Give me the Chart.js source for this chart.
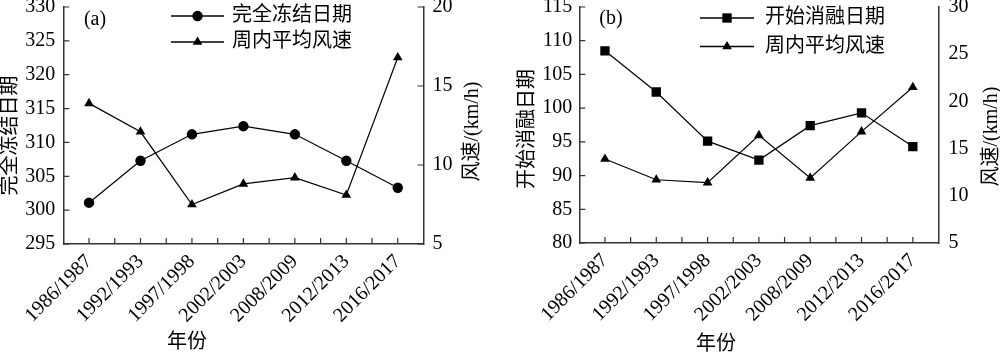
<!DOCTYPE html>
<html>
<head>
<meta charset="utf-8">
<script src="https://cdn.jsdelivr.net/npm/chart.js@4/dist/chart.umd.min.js"></script>
<style>
  html, body { margin: 0; padding: 0; background: #fff; }
  #wrap { position: relative; width: 1000px; height: 354px; overflow: hidden; }
  .panel { position: absolute; top: 0; width: 500px; height: 354px; }
</style>
</head>
<body>
<div id="wrap">
  <div class="panel" style="left:0"><canvas id="ca" width="500" height="354"></canvas></div>
  <div class="panel" style="left:500px"><canvas id="cb" width="500" height="354"></canvas></div>
</div>
<script>
// ---- data ----
const categories = ['1986/1987', '1992/1993', '1997/1998', '2002/2003', '2008/2009', '2012/2013', '2016/2017'];
const freezeDates = [301.1, 307.3, 311.2, 312.4, 311.2, 307.3, 303.3];   // 完全冻结日期
const windA = [13.9, 12.1, 7.5, 8.8, 9.2, 8.1, 16.8];                    // 周内平均风速 (a)
const thawDates = [108.5, 102.4, 95.1, 92.3, 97.4, 99.3, 94.3];           // 开始消融日期
const windB = [13.9, 11.7, 11.4, 16.4, 11.9, 16.8, 21.5];                 // 周内平均风速 (b)
const freezeTicks = [295, 330, 5];   // min, max, step
const windTicksA = [5, 20, 5];
const thawTicks = [80, 115, 5];
const windTicksB = [5, 30, 5];
const labelsA = { panel: '(a)', left: '完全冻结日期', right: '风速/(km/h)', x: '年份', s1: '完全冻结日期', s2: '周内平均风速' };
const labelsB = { panel: '(b)', left: '开始消融日期', right: '风速/(km/h)', x: '年份', s1: '开始消融日期', s2: '周内平均风速' };

const FONT = '"Liberation Serif", "Times New Roman", "Noto Sans CJK SC", serif';
const AXIS = '#333';
const TL = 6;

function drawMarker(ctx, style, r, x, y) {
  ctx.beginPath();
  if (style === 'circle') {
    ctx.arc(x, y, r, 0, Math.PI * 2);
  } else if (style === 'rect') {
    const s = r * Math.SQRT1_2;
    ctx.rect(x - s, y - s, 2 * s, 2 * s);
  } else if (style === 'triangle') {
    for (let k = 0; k < 3; k++) {
      const a = k * 2 * Math.PI / 3;
      const px = x + Math.sin(a) * r, py = y - Math.cos(a) * r;
      if (k === 0) ctx.moveTo(px, py); else ctx.lineTo(px, py);
    }
    ctx.closePath();
  }
  ctx.fill();
}

const deco = {
  id: 'deco',
  afterDraw(chart, args, o) {
    const ctx = chart.ctx, ca = chart.chartArea;
    ctx.save();
    // inward tick marks
    ctx.strokeStyle = AXIS; ctx.lineWidth = 1.2;
    ctx.beginPath();
    const xs = chart.scales.x;
    const n = xs.ticks.length;
    for (let i = 0; i < n; i++) {
      const p = xs.getPixelForTick(i);
      ctx.moveTo(p, ca.bottom); ctx.lineTo(p, ca.bottom - TL);
      if (i < n - 1) {
        const q = (p + xs.getPixelForTick(i + 1)) / 2;
        ctx.moveTo(q, ca.bottom); ctx.lineTo(q, ca.bottom - TL);
      }
    }
    const yl = chart.scales.y;
    yl.ticks.forEach(t => { const p = yl.getPixelForValue(t.value); ctx.moveTo(ca.left, p); ctx.lineTo(ca.left + TL, p); });
    if (o.rightTicks) {
      const yr = chart.scales.y1;
      yr.ticks.forEach(t => { const p = yr.getPixelForValue(t.value); ctx.moveTo(ca.right, p); ctx.lineTo(ca.right - TL, p); });
    }
    ctx.stroke();

    // texts
    ctx.fillStyle = '#000';
    ctx.font = '20px ' + FONT;
    ctx.textBaseline = 'middle';
    ctx.textAlign = 'center';
    ctx.fillText(o.L.panel, o.panelX, o.panelY);
    ctx.fillText(o.L.x, o.xTitleX, o.xTitleY);
    const rot = (txt, x, y) => { ctx.save(); ctx.translate(x, y); ctx.rotate(-Math.PI / 2); ctx.fillText(txt, 0, 0); ctx.restore(); };
    rot(o.L.left, o.leftTitle[0], o.leftTitle[1]);
    rot(o.L.right, o.rightTitle[0], o.rightTitle[1]);

    // legend
    ctx.textAlign = 'left';
    chart.data.datasets.forEach((ds, i) => {
      const y = o.legRows[i];
      ctx.strokeStyle = '#000'; ctx.lineWidth = 1.3;
      ctx.beginPath(); ctx.moveTo(o.legX0, y); ctx.lineTo(o.legX1, y); ctx.stroke();
      ctx.fillStyle = '#000';
      drawMarker(ctx, ds.pointStyle, ds.pointRadius, (o.legX0 + o.legX1) / 2, y);
      ctx.fillText(ds.label, o.legText, y);
    });
    ctx.restore();
  }
};

function makeChart(id, s1, s2, t1, t2, L, geo) {
  const tickFont = { family: FONT, size: 20 };
  return new Chart(document.getElementById(id), {
    type: 'line',
    data: {
      labels: categories,
      datasets: [
        { label: L.s1, data: s1, yAxisID: 'y', borderColor: '#000', borderWidth: 1.2, pointStyle: geo.style1, pointRadius: geo.r1,
          pointBackgroundColor: '#000', pointBorderColor: '#000', pointBorderWidth: 0, tension: 0 },
        { label: L.s2, data: s2, yAxisID: 'y1', borderColor: '#000', borderWidth: 1.2, pointStyle: 'triangle', pointRadius: 5.6,
          pointBackgroundColor: '#000', pointBorderColor: '#000', pointBorderWidth: 0, tension: 0 }
      ]
    },
    options: {
      responsive: false, animation: false, devicePixelRatio: 1,
      layout: { padding: { top: geo.top, left: 0, right: 0, bottom: 0 } },
      plugins: { legend: { display: false }, tooltip: { enabled: false }, deco: geo.deco },
      scales: {
        x: {
          type: 'category', offset: true,
          grid: { display: true, drawOnChartArea: false, drawTicks: false },
          border: { display: true, color: AXIS, width: 1.5 },
          ticks: { autoSkip: false, minRotation: 45, maxRotation: 45, padding: 6, color: '#000', font: { family: FONT, size: 20 } },
          afterFit(s) { s.height = geo.xH; s.paddingLeft = 0; s.paddingRight = 0; }
        },
        y: {
          position: 'left', min: t1[0], max: t1[1],
          grid: { display: true, drawOnChartArea: false, drawTicks: false },
          border: { display: true, color: AXIS, width: 1.5 },
          ticks: { stepSize: t1[2], padding: geo.padL, color: '#000', font: tickFont },
          afterFit(s) { s.width = geo.yW; s.paddingTop = 0; s.paddingBottom = 0; }
        },
        y1: {
          position: 'right', min: t2[0], max: t2[1],
          grid: { display: true, drawOnChartArea: false, drawTicks: false },
          border: { display: true, color: AXIS, width: 1.5 },
          ticks: { stepSize: t2[2], padding: geo.padR, color: '#000', font: tickFont },
          afterFit(s) { s.width = geo.y1W; s.paddingTop = 0; s.paddingBottom = 0; }
        }
      }
    },
    plugins: [deco]
  });
}

makeChart('ca', freezeDates, windA, freezeTicks, windTicksA, labelsA, {
  style1: 'circle', r1: 5.2, top: 7, xH: 110, yW: 63.3, y1W: 76.5, padL: 8, padR: 9,
  deco: { L: labelsA, rightTicks: true, panelX: 95, panelY: 20, xTitleX: 187, xTitleY: 343,
          leftTitle: [11, 135.5], rightTitle: [473, 131.5],
          legRows: [16, 42], legX0: 171, legX1: 224, legText: 232 }
});
makeChart('cb', thawDates, windB, thawTicks, windTicksB, labelsB, {
  style1: 'rect', r1: 6.6, top: 7, xH: 111, yW: 79.3, y1W: 61.5, padL: 7, padR: 10,
  deco: { L: labelsB, rightTicks: false, panelX: 111, panelY: 19, xTitleX: 216, xTitleY: 345,
          leftTitle: [28, 129], rightTitle: [491.5, 136.5],
          legRows: [18, 46.5], legX0: 200, legX1: 254, legText: 265 }
});
</script>
</body>
</html>
